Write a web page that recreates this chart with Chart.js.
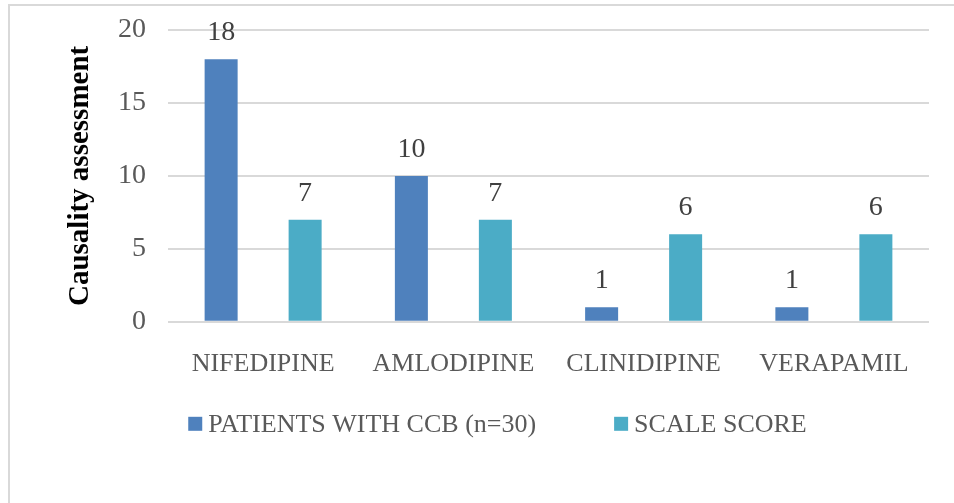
<!DOCTYPE html>
<html>
<head>
<meta charset="utf-8">
<script src="https://cdn.jsdelivr.net/npm/chart.js@4/dist/chart.umd.min.js"></script>
<style>
  html, body { margin: 0; padding: 0; background: #fff; overflow: hidden; }
  #wrap { position: relative; width: 954px; height: 503px; }
  #frame {
    position: absolute; left: 8px; top: 4px; width: 1200px; height: 800px;
    border-left: 2px solid #d9d9d9; border-top: 2px solid #d9d9d9;
  }
  #chart { position: absolute; left: 0; top: 0; }
</style>
</head>
<body>
<div id="wrap">
  <div id="frame"></div>
  <canvas id="chart" width="954" height="503"></canvas>
</div>
<script>
// Calcium channel blockers and their causality assessment
const drugs = ['NIFEDIPINE', 'AMLODIPINE', 'CLINIDIPINE', 'VERAPAMIL'];
const patientCounts = [18, 10, 1, 1];
const scaleScores = [7, 7, 6, 6];
const seriesNames = ['PATIENTS WITH CCB (n=30)', 'SCALE SCORE'];
const seriesColors = ['#4F81BD', '#4BACC6'];
const yTicks = [0, 5, 10, 15, 20];

const SERIF = '"Liberation Serif", "Times New Roman", serif';
const GREY_TEXT = '#595959';

// Writes each bar's value just above it
const valueLabels = {
  id: 'valueLabels',
  afterDatasetsDraw(chart) {
    const ctx = chart.ctx;
    ctx.save();
    ctx.font = '28px ' + SERIF;
    ctx.fillStyle = '#404040';
    ctx.textAlign = 'center';
    ctx.textBaseline = 'alphabetic';
    chart.data.datasets.forEach((ds, di) => {
      chart.getDatasetMeta(di).data.forEach((bar, i) => {
        ctx.fillText(String(ds.data[i]), bar.x, bar.y - 19);
      });
    });
    ctx.restore();
  }
};

// Single-row legend under the category labels, with wide spacing between entries
const wideLegend = {
  id: 'wideLegend',
  afterDraw(chart) {
    const ctx = chart.ctx;
    const area = chart.chartArea;
    const box = 14, textGap = 6, itemGap = 78;
    ctx.save();
    ctx.font = '26px ' + SERIF;
    ctx.textBaseline = 'middle';
    ctx.textAlign = 'left';
    const items = chart.data.datasets.map(ds => ({
      text: ds.label,
      color: ds.backgroundColor,
      w: box + textGap + ctx.measureText(ds.label).width
    }));
    const total = items.reduce((s, it) => s + it.w, 0) + itemGap * (items.length - 1);
    const center = (chart.scales.y.left + area.right) / 2;
    const cy = area.bottom + 103;
    let x = center - total / 2;
    items.forEach(it => {
      ctx.fillStyle = it.color;
      ctx.fillRect(x, cy - box / 2 - 1, box, box);
      ctx.fillStyle = GREY_TEXT;
      ctx.fillText(it.text, x + box + textGap, cy);
      x += it.w + itemGap;
    });
    ctx.restore();
  }
};

new Chart(document.getElementById('chart'), {
  type: 'bar',
  data: {
    labels: drugs,
    datasets: [
      { label: seriesNames[0], data: patientCounts, backgroundColor: seriesColors[0] },
      { label: seriesNames[1], data: scaleScores, backgroundColor: seriesColors[1] }
    ]
  },
  options: {
    responsive: false,
    animation: false,
    categoryPercentage: 0.883,
    barPercentage: 0.393,
    layout: { padding: { left: 66, right: 25, top: 30, bottom: 96 } },
    plugins: {
      tooltip: { enabled: false },
      legend: { display: false }
    },
    scales: {
      x: {
        grid: { display: false, drawTicks: false },
        border: { display: false },
        ticks: {
          color: GREY_TEXT,
          font: { family: SERIF, size: 26 },
          padding: 27,
          maxRotation: 0,
          autoSkip: false
        }
      },
      y: {
        min: 0,
        max: 20,
        afterBuildTicks(scale) { scale.ticks = yTicks.map(v => ({ value: v })); },
        grid: { color: '#d9d9d9', lineWidth: 2, drawTicks: false },
        border: { display: false },
        ticks: {
          color: GREY_TEXT,
          font: { family: SERIF, size: 28 },
          padding: 22
        },
        title: {
          display: true,
          text: 'Causality assessment',
          color: '#000000',
          font: { family: SERIF, size: 29, weight: 'bold', lineHeight: 1 },
          padding: 0
        },
        afterFit(scale) {
          scale.width = 102;
          scale.paddingTop = 0;
          scale.paddingBottom = 0;
        }
      }
    }
  },
  plugins: [valueLabels, wideLegend]
});
</script>
</body>
</html>
